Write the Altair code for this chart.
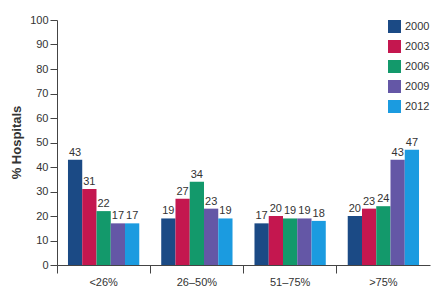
import altair as alt
import pandas as pd

categories = ["<26%", "26–50%", "51–75%", ">75%"]
years = ["2000", "2003", "2006", "2009", "2012"]
values = {
    "2000": [43, 19, 17, 20],
    "2003": [31, 27, 20, 23],
    "2006": [22, 34, 19, 24],
    "2009": [17, 23, 19, 43],
    "2012": [17, 19, 18, 47],
}
colors = ["#1b4a85", "#c4174f", "#13996b", "#6457a6", "#1b9be0"]
yticks = [0, 10, 20, 30, 40, 50, 60, 70, 80, 90, 100]

rows = []
for y in years:
    for c, v in zip(categories, values[y]):
        rows.append({"cat": c, "year": y, "val": v})
df = pd.DataFrame(rows)

FONT = "Liberation Sans"

x = alt.X("cat:N", sort=categories, title=None,
          scale=alt.Scale(paddingInner=0, paddingOuter=0),
          axis=alt.Axis(labelAngle=0, bandPosition=0, tickSize=8, labelPadding=3,
                        labelFontSize=11, labelColor="#333", domainColor="#444",
                        tickColor="#444", labelFont=FONT))
xo = alt.XOffset("year:N", sort=years,
                 scale=alt.Scale(paddingInner=0, paddingOuter=0.77))
y = alt.Y("val:Q", title="% Hospitals",
          scale=alt.Scale(domain=[0, 100]),
          axis=alt.Axis(values=yticks, labelOverlap=False, grid=False, tickSize=7,
                        labelFontSize=11, labelColor="#333", labelPadding=2,
                        domainColor="#444", tickColor="#444", labelFont=FONT,
                        titleFont=FONT, titleFontSize=13, titleFontWeight="bold",
                        titleColor="#333", titleX=-34, titleY=122, titleAngle=-90))
color = alt.Color("year:N", sort=years, scale=alt.Scale(domain=years, range=colors),
                  legend=alt.Legend(title=None, orient="none", legendX=331, legendY=0,
                                    symbolType="square", symbolSize=169,
                                    symbolStrokeWidth=0, symbolOpacity=1,
                                    labelFontSize=11, labelFont=FONT, labelColor="#333",
                                    rowPadding=7, labelOffset=4))

bars = alt.Chart(df).mark_bar(opacity=1).encode(x=x, xOffset=xo, y=y, color=color)
text = alt.Chart(df).mark_text(dy=-7, fontSize=11, font=FONT, color="#333").encode(
    x=x, xOffset=xo, y=y, text="val:Q")

chart = (bars + text).properties(
    width=373, height=245,
    autosize="none",
    padding={"left": 57, "top": 20, "right": 10, "bottom": 27},
).configure_view(stroke=None)

chart.save("out.html", embed_options={"renderer": "svg", "actions": False})
